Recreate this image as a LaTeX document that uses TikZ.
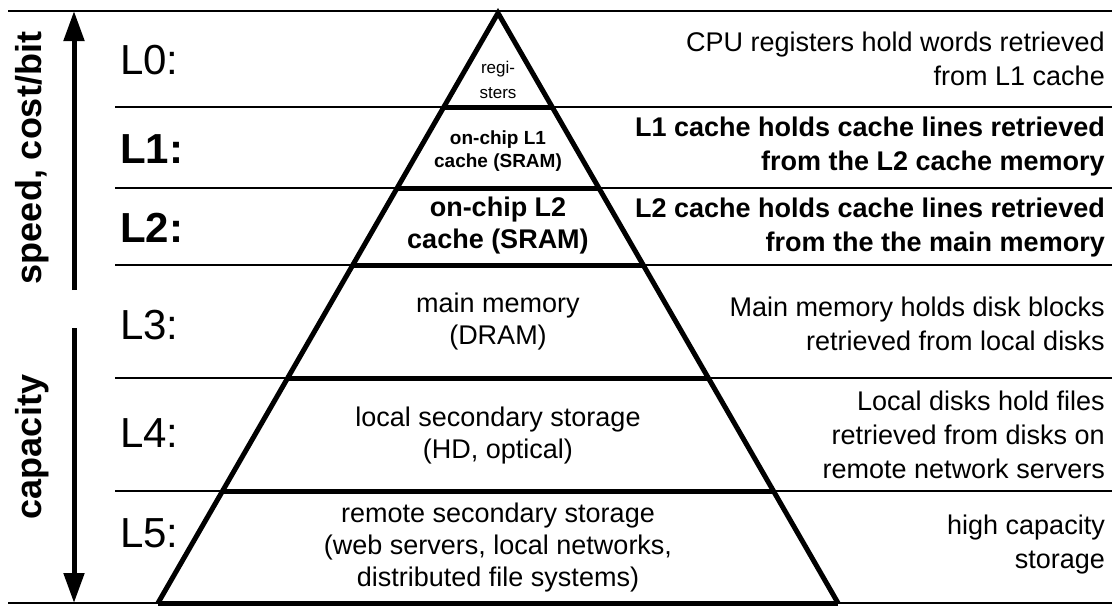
\documentclass[tikz,border=0pt]{standalone}
\usepackage{fontspec}
\setmainfont{Liberation Sans}
\usetikzlibrary{arrows.meta, positioning, calc}
\newcommand\fsz[2]{\fontsize{#1}{#2}\selectfont}
\tikzset{
  lvl/.style={anchor=west, inner sep=0pt, font=\fsz{42}{46}},
  desc/.style={anchor=east, align=right, inner sep=0pt, font=\fsz{27}{34}},
  tier/.style={align=center, inner sep=0pt, font=\fsz{27}{32}},
  sep/.style={line width=1.3pt},
  wall/.style={line width=5pt},
  axis/.style={line width=5pt, -{Triangle[length=30pt,width=20pt]}},
}
\begin{document}
\begin{tikzpicture}[x=1pt,y=-1pt]
\useasboundingbox (0,0) rectangle (1120,606);
% pyramid corners
\coordinate (apex) at (498,13);
\coordinate (bl) at (158,603);
\coordinate (br) at (838,603);
\draw[sep] (8,11) -- (1112,11);
\draw[sep] (8,603) -- (1112,603);
\foreach \y in {107,188,265,378,491} {
  \pgfmathsetmacro\hw{(\y-13)/590*340}
  \draw[sep] (115,\y) -- (1112,\y);
  \draw[wall] ({498-\hw},\y) -- ({498+\hw},\y);
}
\draw[wall, line join=miter] (bl) -- (apex) -- (br);
\draw[wall] (bl) -- (br);

% level names
\node[lvl] (l0) at (120,60) {L0:};
\node[lvl, font=\fsz{42}{46}\bfseries] (l1) at (120,149) {L1:};
\node[lvl, font=\fsz{42}{46}\bfseries] (l2) at (120,228) {L2:};
\node[lvl] (l3) at (120,325) {L3:};
\node[lvl] (l4) at (120,433) {L4:};
\node[lvl] (l5) at (120,533) {L5:};

% inside the pyramid
\node[tier, font=\fsz{17}{25}] (reg) at (498,80) {regi-\\sters};
\node[tier, font=\fsz{19}{23}\bfseries] (c1) at (498,151) {on-chip L1\\cache (SRAM)};
\node[tier, font=\fsz{27}{32}\bfseries] (c2) at (498,226) {on-chip L2\\cache (SRAM)};
\node[tier] (mm) at (498,322) {main memory\\(DRAM)};
\node[tier] (hd) at (498,436) {local secondary storage\\(HD, optical)};
\node[tier] (web) at (498,548) {remote secondary storage\\(web servers, local networks,\\distributed file systems)};

% right column
\node[desc] (d0) at (1105,59) {CPU registers hold words retrieved\\from L1 cache};
\node[desc, font=\fsz{27}{34}\bfseries] (d1) at (1105,147) {L1 cache holds cache lines retrieved\\from the L2 cache memory};
\node[desc, font=\fsz{27}{34}\bfseries] (d2) at (1105,228) {L2 cache holds cache lines retrieved\\from the the main memory};
\node[desc] (d3) at (1105,324) {Main memory holds disk blocks\\retrieved from local disks};
\node[desc] (d4) at (1105,435) {Local disks hold files\\retrieved from disks on\\remote network servers};
\node[desc] (d5) at (1105,545) {high capacity\\storage};

% side arrows
\coordinate (up0) at (74,290);
\coordinate (up1) at (74,11);
\coordinate (dn0) at (74,328);
\coordinate (dn1) at (74,603);
\draw[axis] (up0) -- (up1);
\draw[axis] (dn0) -- (dn1);
\node[rotate=90, inner sep=0pt, font=\fsz{36}{40}\bfseries] (speed) at (32,158) {speed, cost/bit};
\node[rotate=90, inner sep=0pt, font=\fsz{36}{40}\bfseries] (cap) at (32,447) {capacity};
\end{tikzpicture}
\end{document}
